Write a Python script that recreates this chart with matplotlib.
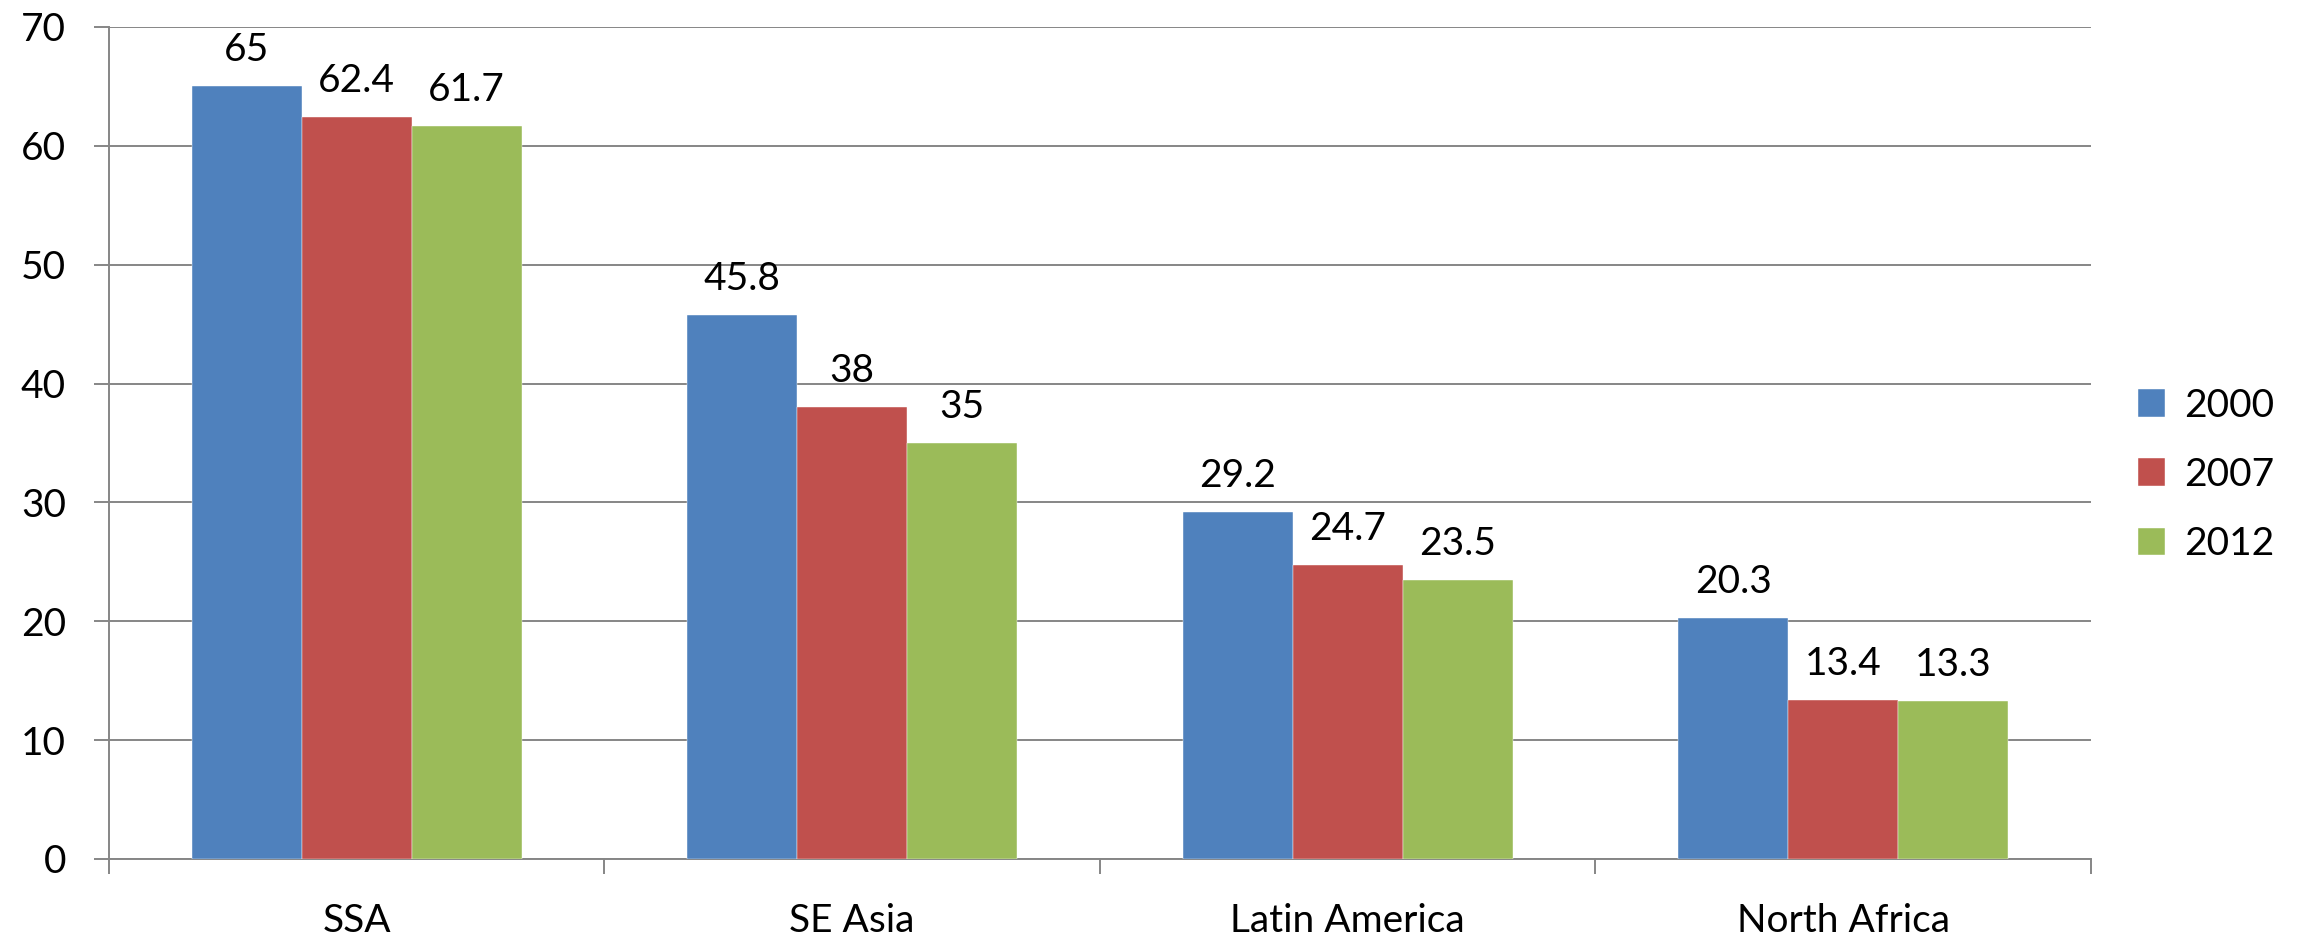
import numpy as np
from matplotlib import pyplot as plt

# Dados do gráfico
categories = ['SSA', 'SE Asia', 'Latin America', 'North Africa']
years = ['2000', '2007', '2012']
vals_2000 = [65, 45.8, 29.2, 20.3]
vals_2007 = [62.4, 38, 24.7, 13.4]
vals_2012 = [61.7, 35, 23.5, 13.3]
colors = ['#4F81BD', '#C0504D', '#9BBB59']

plt.rcParams['font.family'] = ['Lato', 'DejaVu Sans']
fs = 28

fig = plt.figure(figsize=(23.03, 9.40), dpi=100)
ax = fig.add_axes([0.0473, 0.0862, 0.8606, 0.8851])

x = np.arange(len(categories))
w = 0.222
series = [vals_2000, vals_2007, vals_2012]
for i, (vals, c, lab) in enumerate(zip(series, colors, years)):
    pos = x + (i - 1) * w
    ax.bar(pos, vals, width=w, color=c, label=lab, zorder=3,
           edgecolor='white', linewidth=0.3)
    for p, v in zip(pos, vals):
        ax.text(p, v + 2.1, f'{v:g}', ha='center', va='baseline',
                fontsize=fs, color='black')

ax.set_xlim(-0.5, len(categories) - 0.5)
ax.set_ylim(0, 70)
ax.set_yticks(range(0, 71, 10))
ax.yaxis.grid(True, color='#868686', linewidth=1.4, zorder=0)
ax.set_axisbelow(True)

ax.set_xticks(x)
ax.set_xticklabels(categories)
ax.set_xticks(np.arange(-0.5, len(categories)), minor=True)
ax.tick_params(axis='x', which='major', length=0, pad=32, labelsize=fs)
ax.tick_params(axis='x', which='minor', length=11, width=1.4, color='#868686')
ax.tick_params(axis='y', length=11, width=1.4, color='#868686',
               labelsize=fs, pad=20)

for s in ['top', 'right']:
    ax.spines[s].set_visible(False)
for s in ['left', 'bottom']:
    ax.spines[s].set_color('#868686')
    ax.spines[s].set_linewidth(1.4)

fig.legend(loc='center left', bbox_to_anchor=(0.913, 0.495), frameon=False,
           fontsize=fs, handlelength=0.7, handleheight=0.7,
           labelspacing=0.85, handletextpad=0.5)

plt.savefig('out.png', dpi=100)
